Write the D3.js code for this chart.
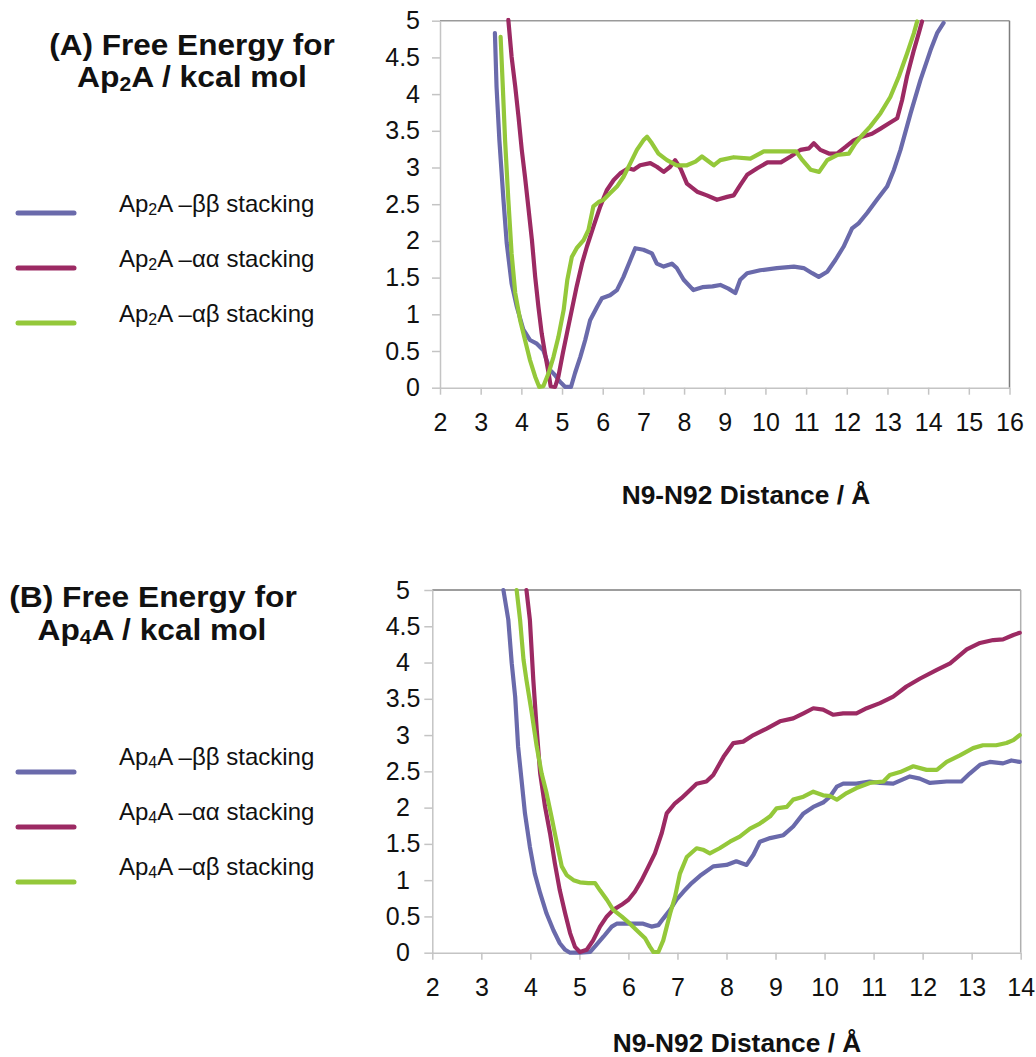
<!DOCTYPE html>
<html><head><meta charset="utf-8">
<script src="https://cdn.jsdelivr.net/npm/d3@7"></script>
<style>
html,body{margin:0;padding:0;background:#fff;}
text{font-family:"Liberation Sans",Arial,Helvetica,sans-serif;fill:#111;}
</style></head>
<body>
<svg id="c" width="1036" height="1057"></svg>
<script>
// ---------- DATA ----------
const yTicks = [0,0.5,1,1.5,2,2.5,3,3.5,4,4.5,5];
const xTicksA = [2,3,4,5,6,7,8,9,10,11,12,13,14,15,16];
const xTicksB = [2,3,4,5,6,7,8,9,10,11,12,13,14];
const seriesNames = ["ββ","αα","αβ"];
const seriesColors = ["#6a6aab","#9c2a63","#94c83a"];

// Panel A : Ap2A
const xA_bb = [3.35,3.39,3.46,3.56,3.64,3.76,3.89,4.05,4.21,4.38,4.54,4.62,4.71,4.83,4.95,5.08,5.22,5.32,5.45,5.57,5.69,5.86,5.98,6.18,6.35,6.51,6.68,6.80,7.00,7.21,7.33,7.50,7.70,7.82,7.99,8.23,8.45,8.70,8.89,9.09,9.26,9.38,9.55,9.87,10.28,10.70,10.94,11.15,11.31,11.52,11.72,11.92,12.13,12.29,12.50,12.74,12.99,13.16,13.32,13.57,13.81,14.06,14.22,14.38];
const eA_bb = [4.83,4.10,3.37,2.56,1.97,1.42,1.10,0.79,0.65,0.60,0.51,0.38,0.24,0.17,0.08,0.01,0.01,0.20,0.42,0.65,0.92,1.10,1.22,1.26,1.33,1.51,1.74,1.90,1.88,1.83,1.69,1.65,1.69,1.63,1.47,1.33,1.37,1.38,1.40,1.35,1.29,1.47,1.56,1.60,1.63,1.65,1.63,1.56,1.51,1.58,1.74,1.92,2.17,2.24,2.38,2.56,2.74,2.97,3.24,3.74,4.19,4.60,4.83,4.97];
const xA_aa = [3.68,3.76,3.85,3.93,4.01,4.09,4.17,4.26,4.34,4.42,4.50,4.58,4.67,4.72,4.83,4.91,5.02,5.12,5.24,5.36,5.49,5.61,5.77,5.94,6.10,6.27,6.43,6.63,6.76,6.92,7.17,7.33,7.50,7.66,7.78,7.91,8.07,8.32,8.56,8.81,9.06,9.22,9.38,9.55,9.80,10.05,10.38,10.62,10.86,11.07,11.19,11.35,11.56,11.76,11.97,12.17,12.38,12.62,12.83,13.03,13.24,13.36,13.48,13.65,13.77,13.85];
const eA_aa = [5.01,4.51,4.10,3.69,3.24,2.87,2.47,2.01,1.51,1.10,0.74,0.47,0.20,0.02,0.01,0.15,0.47,0.74,1.06,1.38,1.69,1.92,2.19,2.47,2.69,2.83,2.92,2.99,2.97,3.03,3.06,3.01,2.94,3.01,3.10,2.99,2.78,2.67,2.62,2.56,2.60,2.62,2.76,2.90,2.99,3.07,3.07,3.15,3.24,3.26,3.33,3.24,3.19,3.19,3.28,3.37,3.42,3.46,3.53,3.60,3.67,3.92,4.24,4.60,4.83,4.99];
const xA_ab = [3.49,3.54,3.60,3.68,3.76,3.85,3.97,4.09,4.21,4.34,4.44,4.54,4.67,4.79,4.91,5.04,5.13,5.24,5.36,5.53,5.65,5.77,5.90,6.02,6.18,6.35,6.51,6.68,6.84,7.00,7.09,7.21,7.37,7.58,7.82,8.07,8.28,8.44,8.73,8.89,9.22,9.63,9.96,10.38,10.75,10.91,11.11,11.32,11.52,11.76,12.05,12.21,12.38,12.58,12.83,13.07,13.28,13.48,13.65,13.73];
const eA_ab = [4.78,4.15,3.37,2.56,1.83,1.29,0.92,0.65,0.38,0.15,0.01,0.02,0.20,0.42,0.69,1.06,1.47,1.78,1.90,2.01,2.15,2.47,2.53,2.56,2.65,2.74,2.87,3.06,3.24,3.37,3.42,3.33,3.19,3.10,3.03,3.03,3.08,3.15,3.03,3.10,3.14,3.12,3.22,3.22,3.22,3.10,2.97,2.94,3.10,3.17,3.19,3.33,3.44,3.56,3.74,3.96,4.24,4.55,4.83,4.99];

// Panel B : Ap4A
const xB_bb = [3.45,3.55,3.62,3.69,3.75,3.82,3.89,3.99,4.09,4.20,4.33,4.47,4.60,4.71,4.81,5.01,5.22,5.35,5.49,5.66,5.76,6.03,6.30,6.47,6.61,6.71,6.85,6.98,7.12,7.29,7.46,7.73,8.00,8.20,8.41,8.55,8.68,8.89,9.16,9.36,9.57,9.77,9.97,10.11,10.25,10.38,10.65,10.92,11.13,11.40,11.74,11.94,12.15,12.49,12.79,12.96,13.17,13.37,13.64,13.81,13.98];
const eB_bb = [5.00,4.59,3.99,3.53,2.84,2.38,1.92,1.46,1.09,0.82,0.54,0.31,0.13,0.04,0.00,0.00,0.01,0.11,0.22,0.36,0.40,0.40,0.40,0.36,0.38,0.47,0.59,0.73,0.84,0.96,1.06,1.19,1.21,1.26,1.21,1.35,1.53,1.58,1.62,1.74,1.92,2.01,2.07,2.15,2.29,2.33,2.33,2.36,2.34,2.33,2.43,2.40,2.34,2.36,2.36,2.47,2.59,2.63,2.61,2.65,2.63];
const xB_aa = [3.92,3.99,4.06,4.13,4.20,4.30,4.40,4.50,4.60,4.71,4.81,4.91,5.01,5.15,5.28,5.42,5.56,5.69,5.86,6.00,6.13,6.27,6.41,6.54,6.68,6.78,6.95,7.08,7.22,7.39,7.59,7.73,7.94,8.14,8.34,8.55,8.82,9.09,9.36,9.57,9.77,9.97,10.18,10.38,10.65,10.86,11.13,11.40,11.67,11.95,12.29,12.56,12.90,13.17,13.44,13.64,13.85,13.98];
const eB_aa = [5.00,4.59,3.76,3.07,2.47,2.01,1.65,1.23,0.86,0.54,0.27,0.08,0.01,0.04,0.17,0.36,0.50,0.59,0.66,0.73,0.84,1.00,1.19,1.37,1.65,1.92,2.06,2.13,2.22,2.33,2.36,2.45,2.70,2.89,2.91,3.00,3.09,3.19,3.23,3.30,3.37,3.35,3.28,3.30,3.30,3.37,3.44,3.53,3.67,3.78,3.90,3.99,4.18,4.27,4.31,4.32,4.38,4.41];
const xB_ab = [3.72,3.79,3.86,3.92,4.03,4.13,4.23,4.33,4.43,4.54,4.64,4.74,4.88,5.01,5.18,5.32,5.42,5.56,5.69,5.86,6.03,6.20,6.34,6.44,6.51,6.61,6.71,6.85,6.95,7.05,7.19,7.39,7.52,7.66,7.86,8.07,8.27,8.48,8.68,8.89,9.02,9.23,9.36,9.57,9.77,9.97,10.11,10.25,10.45,10.65,10.92,11.20,11.33,11.54,11.81,12.08,12.29,12.49,12.76,13.03,13.23,13.50,13.71,13.85,13.98];
const eB_ab = [5.00,4.59,4.04,3.76,3.30,2.84,2.47,2.20,1.88,1.51,1.19,1.07,1.00,0.97,0.96,0.96,0.86,0.73,0.59,0.50,0.40,0.29,0.20,0.08,0.01,0.01,0.17,0.54,0.77,1.09,1.32,1.44,1.42,1.37,1.44,1.53,1.60,1.71,1.78,1.88,1.99,2.01,2.11,2.15,2.22,2.17,2.16,2.11,2.20,2.27,2.34,2.36,2.45,2.49,2.57,2.52,2.52,2.63,2.72,2.82,2.86,2.86,2.89,2.93,3.00];

// ---------- DRAW ----------
const svg = d3.select("#c");
const FONT = '"Liberation Sans",Arial,Helvetica,sans-serif';

// stretch a centred text horizontally so that it spans the given width
function fitWidth(sel, target, cx){
  const w = sel.node().getBBox().width;
  const s = target / w;
  sel.attr("transform",`translate(${cx},0) scale(${s},1) translate(${-cx},0)`);
}

function panel(cfg){
  const x = d3.scaleLinear().domain(cfg.xDomain).range([cfg.left, cfg.right]);
  const y = d3.scaleLinear().domain([0,5]).range([cfg.bottom, cfg.top]);
  const g = svg.append("g");
  const clipId = "clip"+cfg.id;
  svg.append("defs").append("clipPath").attr("id",clipId)
    .append("rect").attr("x",cfg.left-4).attr("y",cfg.top-3)
    .attr("width",cfg.right-cfg.left+8).attr("height",cfg.bottom-cfg.top+6);

  g.append("line").attr("x1",cfg.left).attr("x2",cfg.right).attr("y1",cfg.top).attr("y2",cfg.top)
    .attr("stroke",cfg.topColor).attr("stroke-width",1.5);
  g.append("line").attr("x1",cfg.right).attr("x2",cfg.right).attr("y1",cfg.top).attr("y2",cfg.bottom)
    .attr("stroke",cfg.rightColor).attr("stroke-width",1.5);

  const ya = g.append("g").attr("transform",`translate(${cfg.left},0)`)
    .call(d3.axisLeft(y).tickValues(yTicks).tickSize(8).tickSizeOuter(0).tickPadding(12).tickFormat(d=>String(d)));
  const xa = g.append("g").attr("transform",`translate(0,${cfg.bottom})`)
    .call(d3.axisBottom(x).tickValues(cfg.xTicks).tickSize(7).tickSizeOuter(0).tickPadding(19).tickFormat(d=>String(d)));
  [ya,xa].forEach(a=>{
    a.select(".domain").attr("stroke","#c4c4c4").attr("stroke-width",1.5);
    a.selectAll(".tick line").attr("stroke","#c4c4c4").attr("stroke-width",1.5);
    a.selectAll("text").attr("font-family",FONT).attr("font-size",25).attr("fill","#111");
  });
  if(cfg.yCentered){
    ya.selectAll(".tick text").attr("text-anchor","middle").attr("x",cfg.yLabelX - cfg.left);
  }

  const line = d3.line().x(d=>x(d[0])).y(d=>y(d[1]));
  const lg = g.append("g").attr("clip-path",`url(#${clipId})`);
  cfg.series.forEach((s,i)=>{
    lg.append("path").datum(d3.zip(s[0],s[1]))
      .attr("d",line).attr("fill","none").attr("stroke",seriesColors[i])
      .attr("stroke-width",4.2).attr("stroke-linejoin","round").attr("stroke-linecap","round");
  });

  // axis title
  const at = svg.append("text").attr("x",cfg.xTitleX).attr("y",cfg.xTitleY).attr("text-anchor","middle")
    .attr("font-size",26).attr("font-weight","bold").text("N9-N92 Distance / Å");
  fitWidth(at, 249, cfg.xTitleX);

  // chart title
  const t1 = svg.append("text").attr("x",cfg.titleX).attr("y",cfg.titleY1).attr("text-anchor","middle")
    .attr("font-size",30).attr("font-weight","bold").text(`(${cfg.id}) Free Energy for`);
  fitWidth(t1, cfg.titleW1, cfg.titleX);
  const t2 = svg.append("text").attr("x",cfg.titleX2).attr("y",cfg.titleY2).attr("text-anchor","middle")
    .attr("font-size",30).attr("font-weight","bold");
  t2.append("tspan").text("Ap");
  t2.append("tspan").attr("font-size",20).attr("dy",4).text(cfg.sub);
  t2.append("tspan").attr("dy",-4).text("A / kcal mol");
  fitWidth(t2, cfg.titleW2, cfg.titleX2);

  // legend
  cfg.legendY.forEach((ly,i)=>{
    svg.append("line").attr("x1",18).attr("x2",74).attr("y1",ly).attr("y2",ly)
      .attr("stroke",seriesColors[i]).attr("stroke-width",5).attr("stroke-linecap","round");
    const t = svg.append("text").attr("x",119).attr("y",ly+cfg.legendTextDy).attr("font-size",24);
    t.append("tspan").text("Ap");
    t.append("tspan").attr("font-size",16).attr("dy",3).text(cfg.sub);
    t.append("tspan").attr("dy",-3).text("A –"+seriesNames[i]+" stacking");
  });
}

panel({id:"A", sub:"2", xDomain:[2,16], xTicks:xTicksA, left:440, right:1009.5, top:20.7, bottom:387.7,
  topColor:"#9a9a9a", rightColor:"#7d7d7d", yCentered:false,
  series:[[xA_bb,eA_bb],[xA_aa,eA_aa],[xA_ab,eA_ab]],
  xTitleX:746, xTitleY:504, titleX:192, titleX2:192, titleY1:55, titleY2:87, titleW1:286, titleW2:230,
  legendY:[213,268,323], legendTextDy:-1});

panel({id:"B", sub:"4", xDomain:[2,14], xTicks:xTicksB, left:432.3, right:1020.7, top:590, bottom:952.7,
  topColor:"#7d7d7d", rightColor:"#b0b0b0", yCentered:true, yLabelX:403,
  series:[[xB_bb,eB_bb],[xB_aa,eB_aa],[xB_ab,eB_ab]],
  xTitleX:737, xTitleY:1052, titleX:153, titleX2:152, titleY1:607, titleY2:640, titleW1:288, titleW2:229,
  legendY:[772,827,882], legendTextDy:-7});
</script>
</body></html>
